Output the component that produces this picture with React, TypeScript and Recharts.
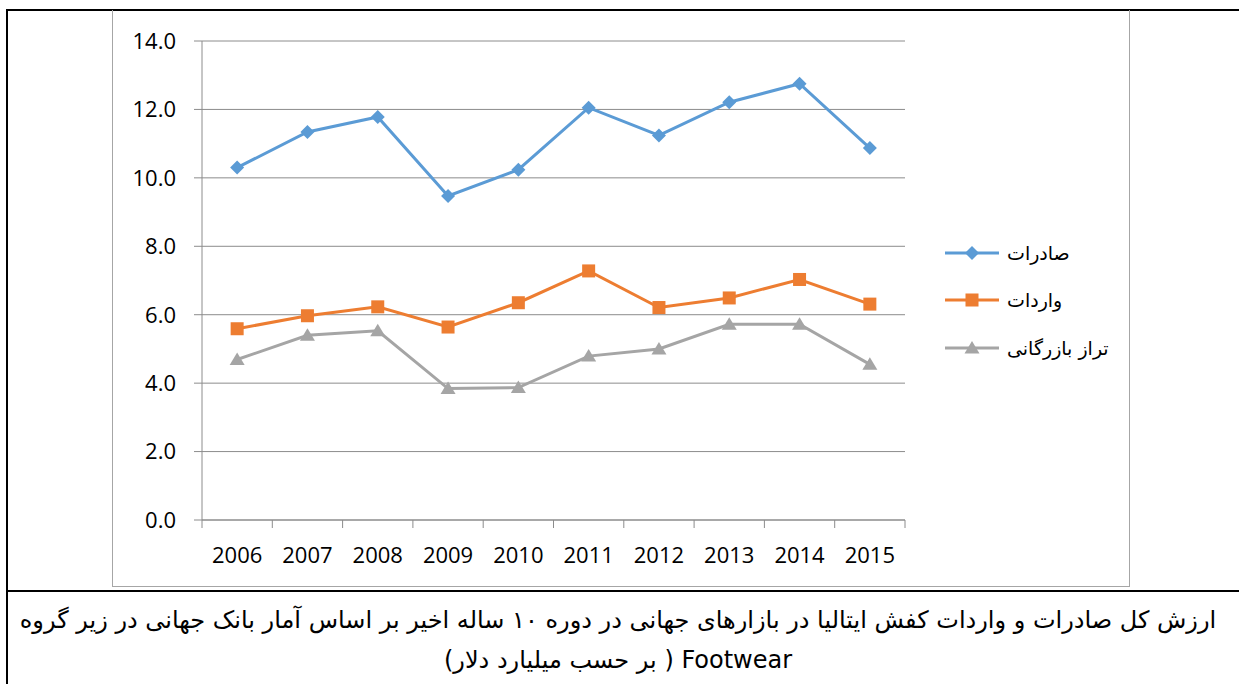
import { LineChart, Line, XAxis, YAxis, CartesianGrid, Legend } from 'recharts';

// years on the category axis
const years = ['2006', '2007', '2008', '2009', '2010', '2011', '2012', '2013', '2014', '2015'];

// values in billion dollars
const exportsVals = [10.30, 11.34, 11.78, 9.47, 10.24, 12.05, 11.24, 12.21, 12.75, 10.87];
const importsVals = [5.59, 5.97, 6.23, 5.64, 6.35, 7.28, 6.21, 6.49, 7.03, 6.31];
const balanceVals = [4.69, 5.40, 5.53, 3.84, 3.87, 4.79, 5.00, 5.72, 5.72, 4.55];

const yTicks = [0, 2, 4, 6, 8, 10, 12, 14];

const seriesKeys = ['exports', 'imports', 'balance'];
const seriesNames = ['صادرات', 'واردات', 'تراز بازرگانی'];
const seriesColors = ['#5B9BD5', '#ED7D31', '#A5A5A5'];
const seriesShapes = ['diamond', 'square', 'triangle'];

const captionLine1 = 'ارزش کل صادرات و واردات کفش ایتالیا در بازارهای جهانی در دوره ۱۰ ساله اخیر  بر اساس آمار بانک جهانی در زیر گروه';
const captionLine2 = 'Footwear ( بر حسب میلیارد دلار)';

const chartData = years.map((year, i) => ({
    year,
    exports: exportsVals[i],
    imports: importsVals[i],
    balance: balanceVals[i],
}));

const gridColor = '#8C8C8C';
const latinFont = "'Open Sans', sans-serif";
const arabicFont = "'DejaVu Sans', sans-serif";

const Marker = ({ shape, cx, cy, color }: { shape: string; cx: number; cy: number; color: string }) => {
    if (shape === 'diamond') {
        return <path d={`M${cx},${cy - 7}L${cx + 7},${cy}L${cx},${cy + 7}L${cx - 7},${cy}Z`} fill={color} />;
    }
    if (shape === 'square') {
        return <rect x={cx - 6.5} y={cy - 6.5} width={13} height={13} fill={color} />;
    }
    return <path d={`M${cx},${cy - 7}L${cx + 7.5},${cy + 5.5}L${cx - 7.5},${cy + 5.5}Z`} fill={color} />;
};

const makeDot = (i: number) => (p: any) => (
    <Marker key={`${seriesKeys[i]}-${p.index}`} shape={seriesShapes[i]} cx={p.cx} cy={p.cy} color={seriesColors[i]} />
);

// year label plus the Excel-style tick between categories
const YearTick = (props: any) => {
    const { x, y, payload, index, width, visibleTicksCount } = props;
    const band = width / visibleTicksCount;
    const axisY = y - 27;
    return (
        <g>
            <line x1={x - band / 2} x2={x - band / 2} y1={axisY} y2={axisY + 8} stroke={gridColor} />
            {index === visibleTicksCount - 1 && (
                <line x1={x + band / 2} x2={x + band / 2} y1={axisY} y2={axisY + 8} stroke={gridColor} />
            )}
            <text x={x} y={y} dy="0.71em" textAnchor="middle" fill="#000" fontSize={22} fontFamily={latinFont}>
                {payload.value}
            </text>
        </g>
    );
};

const LegendBox = () => (
    <div style={{ width: 220 }}>
        {seriesNames.map((name, i) => (
            <div key={name} style={{ display: 'flex', alignItems: 'center', height: 47.5 }}>
                <svg width={56} height={20} style={{ display: 'block' }}>
                    <line x1={0} x2={54} y1={10} y2={10} stroke={seriesColors[i]} strokeWidth={3} />
                    <Marker shape={seriesShapes[i]} cx={27} cy={10} color={seriesColors[i]} />
                </svg>
                <span style={{ fontFamily: arabicFont, fontSize: 19, marginLeft: 6, color: '#000' }} dir="rtl">
                    {name}
                </span>
            </div>
        ))}
    </div>
);

const App = () => {
    return (
        <div style={{ position: 'absolute', left: 0, top: 0, width: 1239, height: 684, background: '#fff', overflow: 'hidden' }}>
            {/* table borders */}
            <div style={{ position: 'absolute', left: 6, top: 9, width: 1233, height: 2, background: '#000' }} />
            <div style={{ position: 'absolute', left: 6, top: 9, width: 2, height: 675, background: '#000' }} />
            <div style={{ position: 'absolute', left: 6, top: 590, width: 1233, height: 2, background: '#000' }} />

            {/* chart frame */}
            <div style={{ position: 'absolute', left: 112, top: 10, width: 1016, height: 576, border: '1px solid #A6A6A6', borderTop: 'none' }} />

            <div style={{ position: 'absolute', left: 113, top: 10 }}>
                <LineChart
                    width={1016}
                    height={577}
                    data={chartData}
                    margin={{ top: 31, right: 224, left: 0, bottom: 0 }}
                >
                    <CartesianGrid vertical={false} stroke={gridColor} />
                    <XAxis
                        dataKey="year"
                        scale="band"
                        height={67}
                        stroke={gridColor}
                        tickLine={false}
                        tickSize={0}
                        tickMargin={27}
                        interval={0}
                        tick={<YearTick />}
                    />
                    <YAxis
                        width={89}
                        domain={[0, 14]}
                        ticks={yTicks}
                        stroke={gridColor}
                        tickSize={8}
                        tickMargin={18}
                        tickFormatter={(v: number) => v.toFixed(1)}
                        tick={{ fill: '#000', fontSize: 22, fontFamily: latinFont }}
                    />
                    {seriesKeys.map((key, i) => (
                        <Line
                            key={key}
                            dataKey={key}
                            name={seriesNames[i]}
                            stroke={seriesColors[i]}
                            strokeWidth={3}
                            dot={makeDot(i)}
                            activeDot={false}
                            isAnimationActive={false}
                        />
                    ))}
                    <Legend
                        layout="vertical"
                        align="center"
                        verticalAlign="middle"
                        content={<LegendBox />}
                        wrapperStyle={{ left: 832, top: 219, width: 220 }}
                    />
                </LineChart>
            </div>

            {/* caption */}
            <div
                dir="rtl"
                style={{
                    position: 'absolute',
                    left: 0,
                    top: 600,
                    width: 1236,
                    textAlign: 'center',
                    fontFamily: arabicFont,
                    fontSize: 24,
                    lineHeight: '40px',
                    color: '#000',
                }}
            >
                <div>{captionLine1}</div>
                <div>{captionLine2}</div>
            </div>
        </div>
    );
};

export default App;
